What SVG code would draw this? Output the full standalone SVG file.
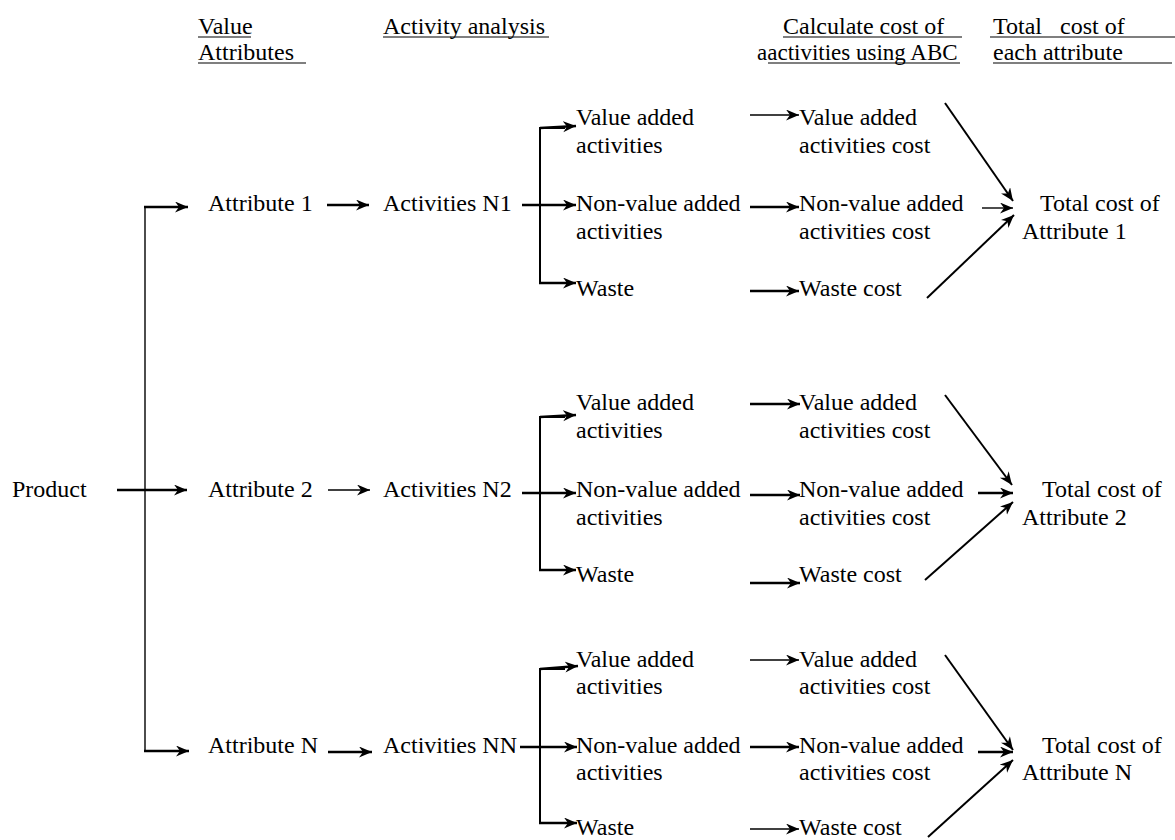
<svg xmlns="http://www.w3.org/2000/svg" width="1175" height="840" viewBox="0 0 1175 840">
<style>
text{font-family:"Liberation Serif","Times New Roman",serif;font-size:24px;fill:#000;white-space:pre}
.h{font-size:24px}
.h2{font-size:23px}
.u{stroke:#000;stroke-width:1.2}
.k{stroke:#000;stroke-width:2.6;fill:none}
.t{stroke:#000;stroke-width:1.4;fill:none}
.m{stroke:#000;stroke-width:2;fill:none}
.a{marker-end:url(#ah)}
</style>
<defs>
<marker id="ah" markerUnits="userSpaceOnUse" markerWidth="15" markerHeight="12" refX="13" refY="5.5" orient="auto">
<path d="M0,0 L13,5.5 L0,11 L4,5.5 Z" fill="#000"/>
</marker>
</defs>
<rect width="1175" height="840" fill="#fff"/>
<g id="headers">
<text class="h" x="198" y="34">Value</text>
<line class="u" x1="198" y1="37" x2="251" y2="37"/>
<text class="h" x="198" y="60">Attributes</text>
<line class="u" x1="198" y1="63" x2="306" y2="63"/>
<text class="h" x="383" y="34">Activity analysis</text>
<line class="u" x1="383" y1="37" x2="549" y2="37"/>
<text class="h" x="783" y="34">Calculate cost of</text>
<line class="u" x1="783" y1="37" x2="962" y2="37"/>
<text class="h2" x="757" y="60">aactivities using ABC</text>
<line class="u" x1="768" y1="63" x2="960" y2="63"/>
<text class="h" x="993" y="34">Total   cost of</text>
<line class="u" x1="990" y1="37" x2="1175" y2="37"/>
<text class="h" x="993" y="60">each attribute</text>
<line class="u" x1="993" y1="63" x2="1172" y2="63"/>
</g>
<g id="product"><text x="12" y="497">Product</text></g>
<g id="attr1"><text x="208" y="211">Attribute 1</text></g>
<g id="attr2"><text x="208" y="497">Attribute 2</text></g>
<g id="attrN"><text x="208" y="753">Attribute N</text></g>
<g id="act1"><text x="383" y="211">Activities N1</text></g>
<g id="act2"><text x="383" y="497">Activities N2</text></g>
<g id="actN"><text x="383" y="753">Activities NN</text></g>
<g id="r1-va"><text x="576" y="125">Value added</text><text x="576" y="153">activities</text></g>
<g id="r1-nva"><text x="576" y="211">Non-value added</text><text x="576" y="239">activities</text></g>
<g id="r1-w"><text x="576" y="296">Waste</text></g>
<g id="r1-vac"><text x="799" y="125">Value added</text><text x="799" y="153">activities cost</text></g>
<g id="r1-nvac"><text x="799" y="211">Non-value added</text><text x="799" y="239">activities cost</text></g>
<g id="r1-wc"><text x="799" y="296">Waste cost</text></g>
<g id="r1-total"><text x="1040" y="211">Total cost of</text><text x="1022" y="239">Attribute 1</text></g>
<g id="r2-va"><text x="576" y="410">Value added</text><text x="576" y="438">activities</text></g>
<g id="r2-nva"><text x="576" y="497">Non-value added</text><text x="576" y="525">activities</text></g>
<g id="r2-w"><text x="576" y="582">Waste</text></g>
<g id="r2-vac"><text x="799" y="410">Value added</text><text x="799" y="438">activities cost</text></g>
<g id="r2-nvac"><text x="799" y="497">Non-value added</text><text x="799" y="525">activities cost</text></g>
<g id="r2-wc"><text x="799" y="582">Waste cost</text></g>
<g id="r2-total"><text x="1042" y="497">Total cost of</text><text x="1022" y="525">Attribute 2</text></g>
<g id="r3-va"><text x="576" y="667">Value added</text><text x="576" y="694">activities</text></g>
<g id="r3-nva"><text x="576" y="753">Non-value added</text><text x="576" y="780">activities</text></g>
<g id="r3-w"><text x="576" y="835">Waste</text></g>
<g id="r3-vac"><text x="799" y="667">Value added</text><text x="799" y="694">activities cost</text></g>
<g id="r3-nvac"><text x="799" y="753">Non-value added</text><text x="799" y="780">activities cost</text></g>
<g id="r3-wc"><text x="799" y="835">Waste cost</text></g>
<g id="r3-total"><text x="1042" y="753">Total cost of</text><text x="1022" y="780">Attribute N</text></g>
<g id="connectors">
<line class="t" x1="145" y1="207" x2="145" y2="751"/>
<line class="k a" x1="144" y1="207" x2="188" y2="207"/>
<line class="k a" x1="117" y1="490" x2="187" y2="490"/>
<line class="k a" x1="144" y1="751" x2="189" y2="751"/>
<line class="k a" x1="327" y1="205" x2="369" y2="205"/>
<line class="t a" x1="328" y1="490" x2="370" y2="490"/>
<line class="k a" x1="328" y1="752" x2="372" y2="752"/>
<line class="k a" x1="522" y1="205" x2="576" y2="205"/>
<line class="k a" x1="522" y1="493" x2="576" y2="493"/>
<line class="k a" x1="520" y1="747" x2="577" y2="747"/>
<path class="m" d="M565,128 L540,128 L540,283"/>
<line class="k a" x1="539" y1="283" x2="576" y2="283"/>
<path class="m" d="M565,417 L540,417 L540,570"/>
<line class="k a" x1="539" y1="570" x2="576" y2="570"/>
<path class="m" d="M565,669 L540,669 L540,823"/>
<line class="k a" x1="539" y1="823" x2="577" y2="823"/>
<line class="k a" x1="540" y1="128" x2="576" y2="126"/>
<line class="k a" x1="540" y1="417" x2="576" y2="415"/>
<line class="k a" x1="540" y1="669" x2="578" y2="666"/>
<line class="t a" x1="750" y1="115" x2="799" y2="115"/>
<line class="k a" x1="750" y1="207" x2="799" y2="207"/>
<line class="k a" x1="750" y1="291" x2="799" y2="291"/>
<line class="k a" x1="750" y1="404" x2="800" y2="404"/>
<line class="k a" x1="750" y1="495" x2="800" y2="495"/>
<line class="k a" x1="750" y1="583" x2="800" y2="583"/>
<line class="t a" x1="750" y1="660" x2="799" y2="660"/>
<line class="k a" x1="750" y1="747" x2="799" y2="747"/>
<line class="t a" x1="750" y1="829" x2="799" y2="829"/>
<line class="m a" x1="945" y1="103" x2="1013" y2="201"/>
<line class="t a" x1="982" y1="208" x2="1013" y2="208"/>
<line class="m a" x1="927" y1="298" x2="1014" y2="215"/>
<line class="m a" x1="945" y1="395" x2="1012" y2="485"/>
<line class="k a" x1="978" y1="493" x2="1013" y2="493"/>
<line class="m a" x1="925" y1="580" x2="1013" y2="502"/>
<line class="m a" x1="945" y1="655" x2="1013" y2="750"/>
<line class="k a" x1="978" y1="752" x2="1013" y2="752"/>
<line class="m a" x1="928" y1="837" x2="1013" y2="760"/>
</g>
</svg>
